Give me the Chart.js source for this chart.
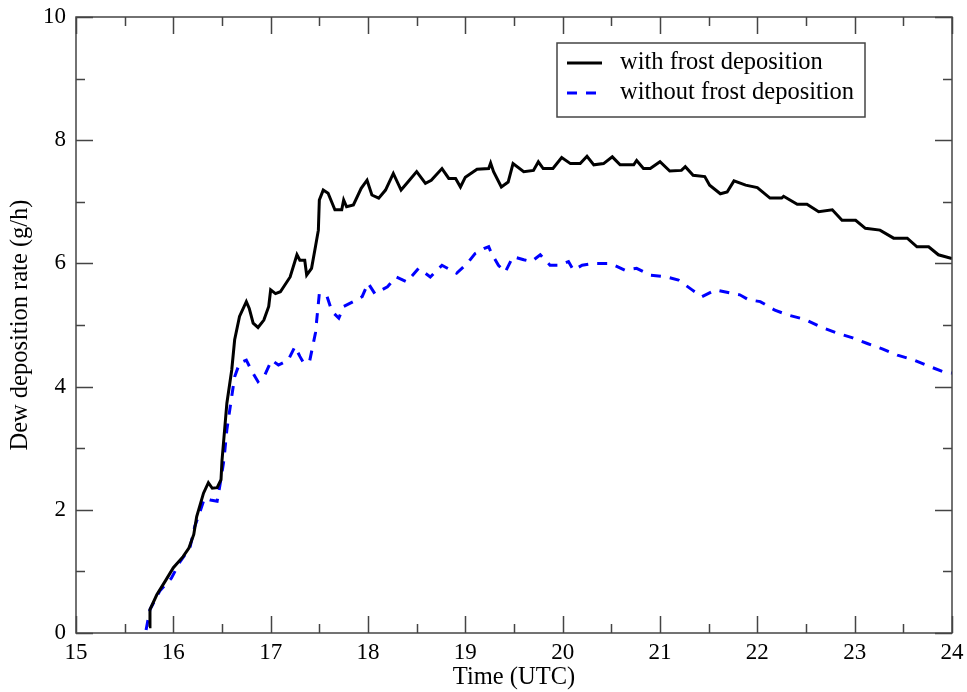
<!DOCTYPE html>
<html>
<head>
<meta charset="utf-8">
<title>Dew deposition rate</title>
<script src="https://cdn.jsdelivr.net/npm/chart.js@4.4.1/dist/chart.umd.min.js"></script>
<style>
  body { margin: 0; background: #fff; }
  #chart { display: block; }
</style>
</head>
<body>
<canvas id="chart" width="967" height="692"></canvas>
<script>
// curve 1: with frost deposition (time in UTC hours, rate in g/h)
const timesWith = [
  15.75, 15.76, 15.83, 15.92, 16.00, 16.10, 16.16, 16.21, 16.24, 16.31, 16.36, 16.40, 16.45, 16.49,
  16.50, 16.55, 16.60, 16.63, 16.68, 16.75, 16.78, 16.82, 16.87, 16.93, 16.98, 17.00, 17.05, 17.10,
  17.20, 17.27, 17.30, 17.35, 17.37, 17.42, 17.46, 17.49, 17.50, 17.54, 17.59, 17.66, 17.73, 17.75,
  17.78, 17.85, 17.93, 17.99, 18.04, 18.11, 18.18, 18.26, 18.34, 18.41, 18.50, 18.59, 18.65, 18.76,
  18.83, 18.90, 18.95, 19.00, 19.12, 19.24, 19.26, 19.29, 19.37, 19.44, 19.49, 19.60, 19.70, 19.75,
  19.80, 19.90, 19.99, 20.08, 20.18, 20.25, 20.32, 20.42, 20.51, 20.59, 20.73, 20.76, 20.83, 20.90,
  21.00, 21.10, 21.22, 21.26, 21.34, 21.46, 21.51, 21.62, 21.69, 21.76, 21.88, 22.00, 22.13, 22.25,
  22.27, 22.41, 22.51, 22.63, 22.77, 22.87, 23.01, 23.11, 23.26, 23.40, 23.54, 23.64, 23.76, 23.86, 24.00
];
const rateWith = [
  0.10, 0.38, 0.62, 0.85, 1.06, 1.24, 1.38, 1.60, 1.89, 2.27, 2.44, 2.35, 2.36, 2.49,
  2.80, 3.73, 4.27, 4.76, 5.14, 5.38, 5.27, 5.03, 4.96, 5.08, 5.30, 5.57, 5.51, 5.54,
  5.78, 6.14, 6.05, 6.05, 5.81, 5.92, 6.27, 6.54, 7.03, 7.19, 7.14, 6.87, 6.87, 7.03,
  6.92, 6.95, 7.22, 7.35, 7.11, 7.06, 7.19, 7.46, 7.19, 7.32, 7.49, 7.30, 7.35, 7.54,
  7.38, 7.38, 7.24, 7.40, 7.53, 7.54, 7.63, 7.49, 7.24, 7.32, 7.62, 7.49, 7.51, 7.65,
  7.54, 7.54, 7.72, 7.62, 7.62, 7.74, 7.60, 7.62, 7.73, 7.60, 7.60, 7.67, 7.54, 7.54,
  7.65, 7.50, 7.51, 7.57, 7.43, 7.41, 7.27, 7.13, 7.16, 7.34, 7.27, 7.23, 7.06, 7.06,
  7.09, 6.96, 6.96, 6.84, 6.87, 6.70, 6.70, 6.57, 6.54, 6.41, 6.41, 6.27, 6.27, 6.14, 6.08
];

// curve 2: without frost deposition
const timesWithout = [
  15.72, 15.76, 15.86, 15.98, 16.07, 16.17, 16.22, 16.27, 16.32, 16.38, 16.45, 16.48, 16.52, 16.55,
  16.60, 16.63, 16.68, 16.75, 16.80, 16.87, 16.94, 17.01, 17.08, 17.18, 17.25, 17.30, 17.34, 17.40,
  17.46, 17.50, 17.58, 17.63, 17.70, 17.75, 17.85, 17.94, 18.00, 18.07, 18.20, 18.29, 18.40, 18.52,
  18.64, 18.76, 18.91, 19.02, 19.10, 19.19, 19.24, 19.27, 19.34, 19.41, 19.49, 19.60, 19.68, 19.77,
  19.87, 19.97, 20.06, 20.11, 20.20, 20.32, 20.49, 20.64, 20.76, 20.90, 21.07, 21.19, 21.33, 21.43,
  21.57, 21.72, 21.82, 21.91, 22.03, 22.18, 22.32, 22.49, 22.65, 22.82, 22.98, 23.13, 23.29, 23.44,
  23.61, 23.78, 23.93, 24.00
];
const rateWithout = [
  0.05, 0.38, 0.68, 0.89, 1.16, 1.38, 1.73, 1.95, 2.19, 2.16, 2.14, 2.41, 2.81, 3.30,
  3.84, 4.16, 4.38, 4.43, 4.27, 4.08, 4.19, 4.43, 4.35, 4.43, 4.65, 4.49, 4.38, 4.41,
  4.87, 5.51, 5.46, 5.22, 5.11, 5.30, 5.38, 5.46, 5.68, 5.51, 5.62, 5.78, 5.70, 5.92,
  5.78, 5.97, 5.84, 6.00, 6.16, 6.24, 6.27, 6.16, 5.97, 5.86, 6.11, 6.06, 6.03, 6.14,
  5.97, 5.97, 6.03, 5.89, 5.97, 6.00, 6.00, 5.89, 5.92, 5.81, 5.78, 5.73, 5.57, 5.46,
  5.57, 5.52, 5.49, 5.41, 5.38, 5.24, 5.16, 5.09, 4.97, 4.87, 4.79, 4.70, 4.61, 4.51,
  4.43, 4.32, 4.23, 4.22
];

const seriesLabels = ['with frost deposition', 'without frost deposition'];

const FONT = '"Liberation Serif", "Times New Roman", serif';
const AXIS_COLOR = '#444';

function toPoints(xs, ys) {
  return xs.map((t, i) => ({ x: t, y: ys[i] }));
}

// frame on all 4 sides + inward ticks (major and minor), xmgrace style
const frameTicks = {
  id: 'frameTicks',
  afterDatasetsDraw(chart) {
    const { ctx, chartArea: a, scales: { x, y } } = chart;
    ctx.save();
    ctx.strokeStyle = AXIS_COLOR;
    ctx.lineWidth = 1.5;
    ctx.strokeRect(a.left, a.top, a.right - a.left, a.bottom - a.top);
    ctx.beginPath();
    for (let v = 15; v <= 24.001; v += 0.5) {
      const len = Math.abs(v - Math.round(v)) < 1e-6 ? 17 : 9;
      const px = Math.round(x.getPixelForValue(v)) + 0.5;
      ctx.moveTo(px, a.bottom); ctx.lineTo(px, a.bottom - len);
      ctx.moveTo(px, a.top); ctx.lineTo(px, a.top + len);
    }
    for (let v = 0; v <= 10.001; v += 1) {
      const len = v % 2 === 0 ? 17 : 9;
      const py = Math.round(y.getPixelForValue(v)) + 0.5;
      ctx.moveTo(a.left, py); ctx.lineTo(a.left + len, py);
      ctx.moveTo(a.right, py); ctx.lineTo(a.right - len, py);
    }
    ctx.stroke();
    ctx.restore();
  },
  afterDraw(chart) {
    // boxed legend in the upper right of the plot
    const ctx = chart.ctx;
    const box = { x: 557, y: 43, w: 308, h: 74 };
    ctx.save();
    ctx.fillStyle = '#fff';
    ctx.fillRect(box.x, box.y, box.w, box.h);
    ctx.strokeStyle = AXIS_COLOR;
    ctx.lineWidth = 1.5;
    ctx.strokeRect(box.x, box.y, box.w, box.h);
    chart.data.datasets.forEach((ds, i) => {
      const rowY = box.y + 20 + i * 30;
      ctx.beginPath();
      ctx.strokeStyle = ds.borderColor;
      ctx.lineWidth = ds.borderWidth;
      ctx.setLineDash(ds.borderDash || []);
      ctx.moveTo(567, rowY);
      ctx.lineTo(602, rowY);
      ctx.stroke();
      ctx.setLineDash([]);
      ctx.fillStyle = '#000';
      ctx.font = '24.5px ' + FONT;
      ctx.textBaseline = 'middle';
      ctx.textAlign = 'left';
      ctx.fillText(ds.label, 620, rowY);
    });
    ctx.restore();
  }
};

new Chart(document.getElementById('chart'), {
  type: 'line',
  data: {
    datasets: [
      {
        label: seriesLabels[0],
        data: toPoints(timesWith, rateWith),
        borderColor: '#000000',
        borderWidth: 3,
        pointRadius: 0,
        tension: 0,
        fill: false
      },
      {
        label: seriesLabels[1],
        data: toPoints(timesWithout, rateWithout),
        borderColor: '#0000ff',
        borderWidth: 3,
        borderDash: [10, 9],
        pointRadius: 0,
        tension: 0,
        fill: false
      }
    ]
  },
  options: {
    responsive: false,
    animation: false,
    layout: { padding: { left: 0, right: 15, top: 17, bottom: 0 } },
    plugins: {
      legend: { display: false },
      tooltip: { enabled: false }
    },
    scales: {
      x: {
        type: 'linear',
        min: 15,
        max: 24,
        grid: { display: false, drawTicks: false },
        border: { display: false },
        ticks: {
          stepSize: 1,
          padding: 6,
          color: '#000',
          font: { family: FONT, size: 23 },
          maxRotation: 0
        },
        title: {
          display: true,
          text: 'Time (UTC)',
          color: '#000',
          font: { family: FONT, size: 24.5 },
          padding: { top: 0, bottom: 0 }
        },
        afterFit(scale) {
          scale.height = 59;
          scale.paddingLeft = 0;
          scale.paddingRight = 0;
        }
      },
      y: {
        min: 0,
        max: 10,
        grid: { display: false, drawTicks: false },
        border: { display: false },
        ticks: {
          stepSize: 2,
          padding: 10,
          color: '#000',
          font: { family: FONT, size: 23 }
        },
        title: {
          display: true,
          text: 'Dew deposition rate (g/h)',
          color: '#000',
          font: { family: FONT, size: 24.5 },
          padding: { top: 6, bottom: 0 }
        },
        afterFit(scale) {
          scale.width = 76;
          scale.paddingTop = 0;
          scale.paddingBottom = 0;
        }
      }
    }
  },
  plugins: [frameTicks]
});
</script>
</body>
</html>
